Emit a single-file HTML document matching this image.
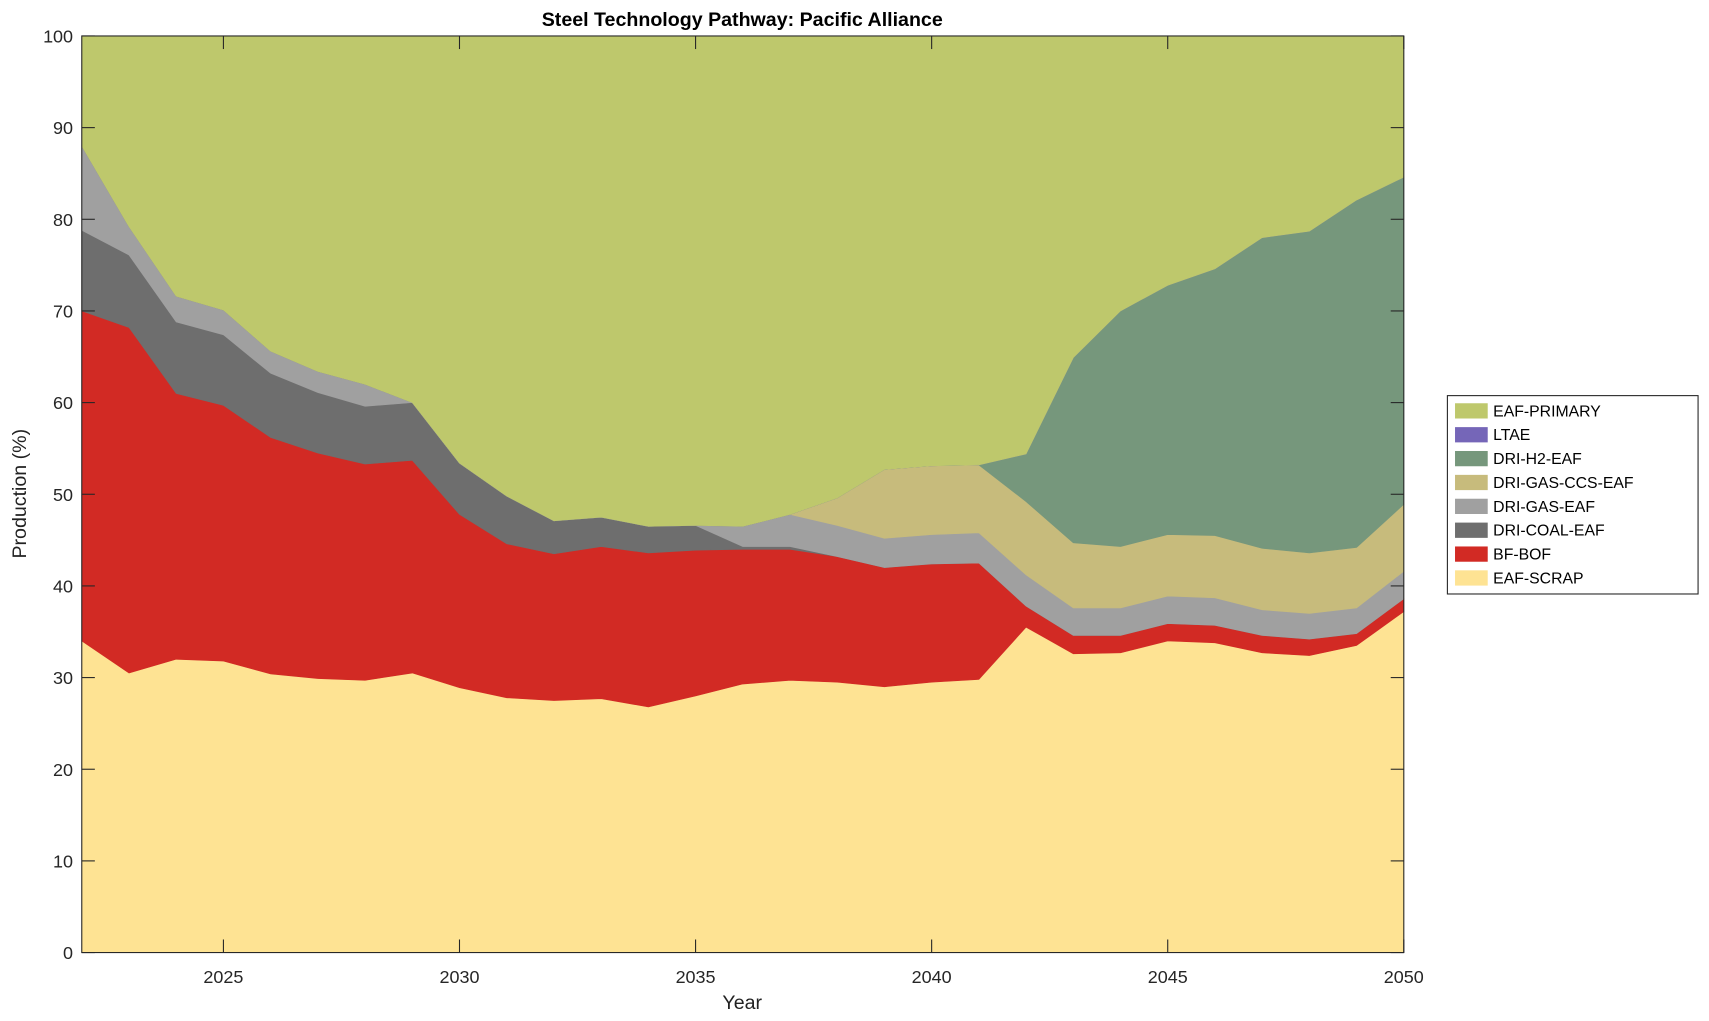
<!DOCTYPE html>
<html><head><meta charset="utf-8"><style>
html,body{margin:0;padding:0;background:#fff}
svg{display:block;font-family:"Liberation Sans",Arial,sans-serif}
</style></head><body>
<svg id="chart" width="1709" height="1021" viewBox="0 0 1568 936.8" xmlns="http://www.w3.org/2000/svg">
<rect x="0" y="0" width="1568" height="937" fill="#fff"/>
<g id="areas"></g>
<g id="axes"></g>
<text x="681" y="24" text-anchor="middle" font-weight="bold" font-size="18" fill="#000">Steel Technology Pathway: Pacific Alliance</text>
<text x="681" y="926" text-anchor="middle" font-size="18" fill="#222">Year</text>
<text transform="translate(24,453) rotate(-90)" text-anchor="middle" font-size="18" fill="#222">Production (%)</text>
<g id="legend"></g>
</svg>
<script>
const years = [2022,2023,2024,2025,2026,2027,2028,2029,2030,2031,2032,2033,2034,2035,2036,2037,2038,2039,2040,2041,2042,2043,2044,2045,2046,2047,2048,2049,2050];
const eafScrap = [34,30.5,32,31.8,30.4,29.9,29.7,30.5,28.9,27.8,27.5,27.7,26.8,28,29.3,29.7,29.5,29,29.5,29.8,35.5,32.6,32.7,34,33.8,32.7,32.4,33.5,37.2];
const bfBof = [36,37.7,29,27.9,25.8,24.6,23.6,23.2,18.9,16.8,16,16.6,16.8,15.9,14.7,14.3,13.7,13,12.9,12.7,2.3,2,1.9,1.9,1.9,1.9,1.8,1.3,1.4];
const driCoal = [8.8,7.9,7.8,7.7,7,6.6,6.3,6.3,5.6,5.2,3.6,3.2,2.9,2.7,0.3,0.3,0,0,0,0,0,0,0,0,0,0,0,0,0];
const driGas = [9.2,3.1,2.8,2.7,2.4,2.3,2.4,0,0,0,0,0,0,0,2.2,3.5,3.4,3.2,3.2,3.3,3.4,3,3,3,3,2.8,2.8,2.8,3];
const driGasCcs = [0,0,0,0,0,0,0,0,0,0,0,0,0,0,0,0,3,7.5,7.5,7.4,8,7.1,6.7,6.7,6.8,6.7,6.6,6.6,7.3];
const driH2 = [0,0,0,0,0,0,0,0,0,0,0,0,0,0,0,0,0,0,0,0,5.2,20.2,25.7,27.2,29.1,33.9,35.1,37.9,35.7];
const ltae = [0,0,0,0,0,0,0,0,0,0,0,0,0,0,0,0,0,0,0,0,0,0,0,0,0,0,0,0,0];
const eafPrimary = [12,20.8,28.4,29.9,34.4,36.6,38,40,46.6,50.2,52.9,52.5,53.5,53.4,53.5,52.2,50.4,47.3,46.9,46.8,45.6,35.1,30,27.2,25.4,22,21.3,17.9,15.4];
const seriesNames = ["EAF-SCRAP","BF-BOF","DRI-COAL-EAF","DRI-GAS-EAF","DRI-GAS-CCS-EAF","DRI-H2-EAF","LTAE","EAF-PRIMARY"];
const xTicks = [2025,2030,2035,2040,2045,2050];
const yTicks = [0,10,20,30,40,50,60,70,80,90,100];

const seriesData = [eafScrap,bfBof,driCoal,driGas,driGasCcs,driH2,ltae,eafPrimary];
const colors = ["#fee393","#d22a24","#6e6e6e","#a0a0a0","#c7bb7c","#76977c","#7566b8","#bec86c"];
const L=75,R=1288,T=33,B=874;
const X0=2022,X1=2050;
const xs = v => L+(v-X0)/(X1-X0)*(R-L);
const ys = v => B-(v/100)*(B-T);
const NS="http://www.w3.org/2000/svg";
function mk(tag,attrs,parent){const e=document.createElementNS(NS,tag);for(const k in attrs)e.setAttribute(k,attrs[k]);parent.appendChild(e);return e;}

const areas=document.getElementById('areas');
let base=years.map(()=>0);
seriesData.forEach((s,i)=>{
  const top=base.map((b,j)=>b+s[j]);
  let d="M"+years.map((y,j)=>xs(y)+","+ys(top[j])).join(" L");
  for(let j=years.length-1;j>=0;j--) d+=" L"+xs(years[j])+","+ys(base[j]);
  d+=" Z";
  const p=mk('path',{d:d,fill:colors[i],stroke:colors[i],'stroke-width':0.6},areas);
  
  
  base=top;
});

const axes=document.getElementById('axes');
const box=mk('rect',{x:L,y:T,width:R-L,height:B-T,fill:'none',stroke:'#262626','stroke-width':1},axes);


yTicks.forEach(v=>{
  const y=ys(v);
  mk('line',{x1:L,x2:L+12,y1:y,y2:y,stroke:'#262626','stroke-width':1},axes);
  mk('line',{x1:R,x2:R-12,y1:y,y2:y,stroke:'#262626','stroke-width':1},axes);
  const t=mk('text',{x:L-8,y:y+6,'text-anchor':'end','font-size':16.5,fill:'#262626'},axes);
  t.textContent=v;
  
  
});
xTicks.forEach(v=>{
  const x=xs(v);
  mk('line',{x1:x,x2:x,y1:B,y2:B-12,stroke:'#262626','stroke-width':1},axes);
  mk('line',{x1:x,x2:x,y1:T,y2:T+12,stroke:'#262626','stroke-width':1},axes);
  const t=mk('text',{x:x,y:902,'text-anchor':'middle','font-size':16.5,fill:'#262626'},axes);
  t.textContent=v;
  
  
});

const lg=document.getElementById('legend');
mk('rect',{x:1328,y:363,width:230,height:182,fill:'#fff',stroke:'#262626','stroke-width':1},lg);
for(let k=0;k<seriesNames.length;k++){
  const i=seriesNames.length-1-k;
  const y=377+k*21.9;
  const sw=mk('rect',{x:1335,y:y-7,width:30,height:14,fill:colors[i]},lg);
  
  
  const t=mk('text',{x:1370,y:y+5,'font-size':14.5,fill:'#000'},lg);
  t.textContent=seriesNames[i];
  
  
}
</script>
</body></html>
